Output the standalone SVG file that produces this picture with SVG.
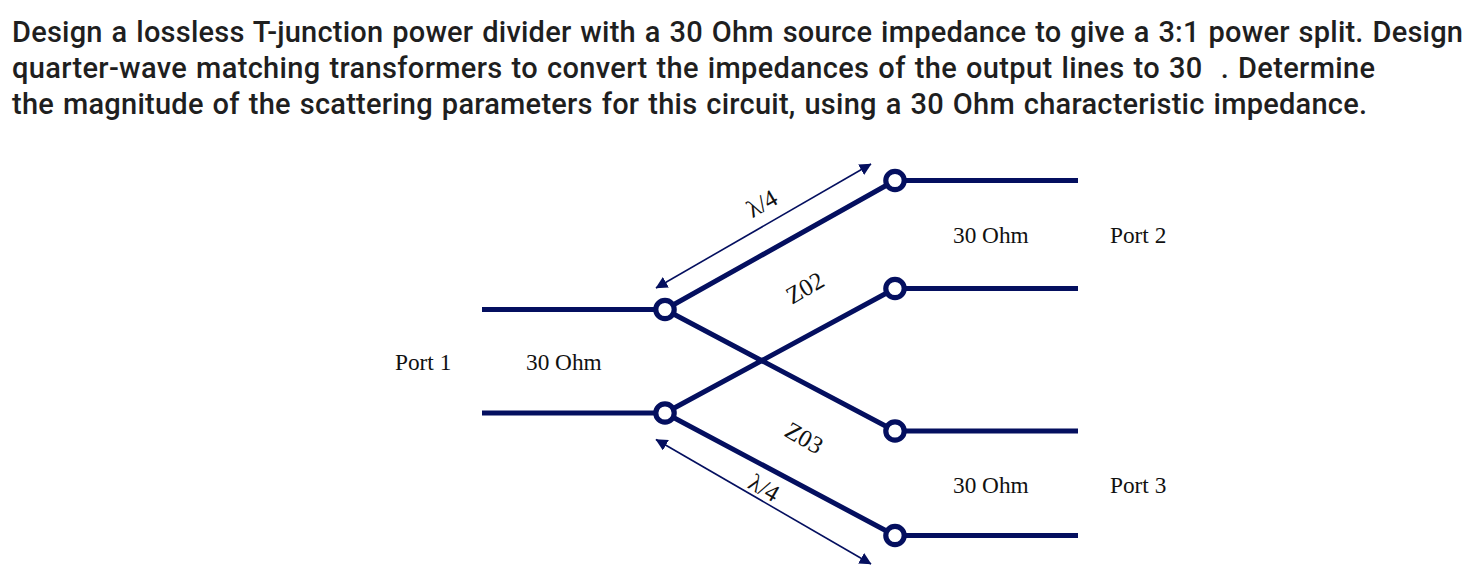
<svg xmlns="http://www.w3.org/2000/svg" width="1482" height="577" viewBox="0 0 1482 577">
<style>
.h{font-family:"Roboto","Liberation Sans",sans-serif;font-size:29px;font-weight:500;fill:#1f1f1f;word-spacing:1.5px}
.t{font-family:"Liberation Serif","DejaVu Serif",serif;font-size:23.3px;fill:#111}
.r{font-size:24.500px}
.w{stroke:#040f5f;stroke-width:5;fill:none}
.d{stroke:#040f5f;stroke-width:1.6;fill:none;marker-start:url(#a);marker-end:url(#a)}
.n{stroke:#040f5f;stroke-width:5.2;fill:#fff}
</style>
<defs><marker id="a" viewBox="0 0 10 10" refX="9.5" refY="5" markerUnits="userSpaceOnUse" markerWidth="12" markerHeight="12" orient="auto-start-reverse"><path d="M0 0L10 5L0 10Z" fill="#040f5f"/></marker></defs>
<rect width="1482" height="577" fill="#fff"/>
<g id="heading">
<text class="h" x="12" y="42" textLength="1451" lengthAdjust="spacing">Design a lossless T-junction power divider with a 30 Ohm source impedance to give a 3:1 power split. Design</text>
<text class="h" x="12" y="78" textLength="1363" lengthAdjust="spacing" xml:space="preserve">quarter-wave matching transformers to convert the impedances of the output lines to 30  . Determine</text>
<text class="h" x="12" y="114" textLength="1355" lengthAdjust="spacing">the magnitude of the scattering parameters for this circuit, using a 30 Ohm characteristic impedance.</text>
</g>
<g id="connectors">
<path class="w" d="M482 309.500H665M482 413H665M895 180.500H1078M895 288.500H1078M895 431H1078M895 535.500H1078"/>
<path class="w" d="M665 309.500L895 180.500M665 309.500L895 431M665 413L895 288.500M665 413L895 535.500"/>
<path class="d" d="M656 288L871 164"/>
<path class="d" d="M656 439.500L871 564"/>
</g>
<g id="junction-1"><circle class="n" cx="665" cy="309.500" r="9.200"/></g>
<g id="junction-2"><circle class="n" cx="665" cy="413" r="9.200"/></g>
<g id="node-p2a"><circle class="n" cx="895" cy="180.500" r="9.200"/></g>
<g id="node-p2b"><circle class="n" cx="895" cy="288.500" r="9.200"/></g>
<g id="node-p3a"><circle class="n" cx="895" cy="431" r="9.200"/></g>
<g id="node-p3b"><circle class="n" cx="895" cy="535.500" r="9.200"/></g>
<g id="labels">
<text class="t" x="395" y="370">Port 1</text>
<text class="t" x="526" y="370">30 Ohm</text>
<text class="t" x="953" y="243">30 Ohm</text>
<text class="t" x="1110" y="243">Port 2</text>
<text class="t" x="953" y="493">30 Ohm</text>
<text class="t" x="1110" y="493">Port 3</text>
<text class="t r" text-anchor="middle" transform="translate(766,210.500) rotate(-30)">λ/4</text>
<text class="t r" text-anchor="middle" transform="translate(809,295) rotate(-30)">Z02</text>
<text class="t r" text-anchor="middle" transform="translate(800,445) rotate(30)">Z03</text>
<text class="t r" text-anchor="middle" transform="translate(760,495) rotate(30)">λ/4</text>
</g>
</svg>
